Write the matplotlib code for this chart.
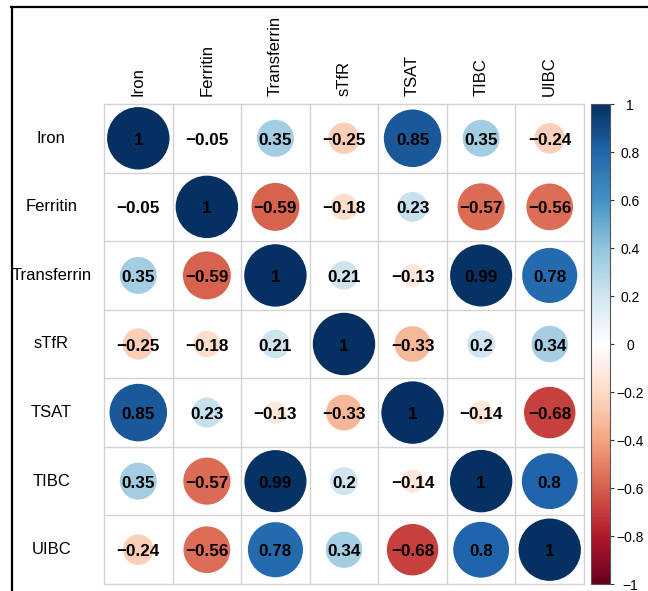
import numpy as np
import matplotlib
matplotlib.use("Agg")
import matplotlib.pyplot as plt
from matplotlib.patches import Circle
from matplotlib.colors import LinearSegmentedColormap, Normalize
from matplotlib.lines import Line2D
import matplotlib.colorbar as mcolorbar

plt.rcParams['font.family'] = ['Liberation Sans', 'DejaVu Sans']

labels = ["Iron", "Ferritin", "Transferrin", "sTfR", "TSAT", "TIBC", "UIBC"]
corr = np.array([
    [1, -0.05, 0.35, -0.25, 0.85, 0.35, -0.24],
    [-0.05, 1, -0.59, -0.18, 0.23, -0.57, -0.56],
    [0.35, -0.59, 1, 0.21, -0.13, 0.99, 0.78],
    [-0.25, -0.18, 0.21, 1, -0.33, 0.2, 0.34],
    [0.85, 0.23, -0.13, -0.33, 1, -0.14, -0.68],
    [0.35, -0.57, 0.99, 0.2, -0.14, 1, 0.8],
    [-0.24, -0.56, 0.78, 0.34, -0.68, 0.8, 1],
])
cbar_ticks = [-1, -0.8, -0.6, -0.4, -0.2, 0, 0.2, 0.4, 0.6, 0.8, 1]

palette = ["#67001F", "#B2182B", "#D6604D", "#F4A582", "#FDDBC7", "#FFFFFF",
           "#D1E5F0", "#92C5DE", "#4393C3", "#2166AC", "#053061"]
cmap = LinearSegmentedColormap.from_list("corrRdBu", palette, N=256)
norm = Normalize(vmin=-1, vmax=1)

W, H = 648, 591
fig = plt.figure(figsize=(W / 100, H / 100), dpi=100)

gx0, gx1, gy0, gy1 = 104, 584, 104, 584
ax = fig.add_axes([gx0 / W, (H - gy1) / H, (gx1 - gx0) / W, (gy1 - gy0) / H])
n = len(labels)
ax.set_xlim(0, n)
ax.set_ylim(n, 0)
ax.axis('off')

for k in range(n + 1):
    ax.plot([k, k], [0, n], color='#d3d3d3', lw=1.0, zorder=1, clip_on=False)
    ax.plot([0, n], [k, k], color='#d3d3d3', lw=1.0, zorder=1, clip_on=False)

for i in range(n):
    for j in range(n):
        v = corr[i, j]
        r = 0.455 * np.sqrt(abs(v))
        ax.add_patch(Circle((j + 0.5, i + 0.5), r, facecolor=cmap(norm(v)),
                            edgecolor='none', zorder=2))
        txt = f"{v:g}".replace("-", "\u2212")
        ax.text(j + 0.5, i + 0.53, txt, ha='center', va='center', fontsize=12.3,
                fontweight='bold', color='black', zorder=3)

for i, lab in enumerate(labels):
    ax.text(-0.77, i + 0.5, lab, ha='center', va='center', fontsize=12,
            color='black', clip_on=False)
    ax.text(i + 0.5, -0.12, lab, ha='center', va='bottom', rotation=90,
            fontsize=12, color='black', clip_on=False)

cx0, cx1 = 591, 610
cax = fig.add_axes([cx0 / W, (H - gy1) / H, (cx1 - cx0) / W, (gy1 - gy0) / H])
cb = mcolorbar.ColorbarBase(cax, cmap=cmap, norm=norm, ticks=cbar_ticks)
cb.outline.set_edgecolor('#555555')
cb.outline.set_linewidth(0.8)
cb.ax.set_yticklabels([f"{t:g}".replace("-", "\u2212") for t in cbar_ticks])
cb.ax.tick_params(axis='y', length=3, width=0.8, color='#333333', pad=11.5,
                  labelsize=10)
for t in cb.ax.get_yticklabels():
    t.set_horizontalalignment('center')

fig.add_artist(Line2D([11 / W, 1.0], [1 - 7 / H, 1 - 7 / H], color='black', lw=1.6,
                      transform=fig.transFigure))
fig.add_artist(Line2D([12 / W, 12 / W], [0.0, 1 - 7 / H], color='black', lw=1.6,
                      transform=fig.transFigure))

fig.savefig("out.png", dpi=100)
